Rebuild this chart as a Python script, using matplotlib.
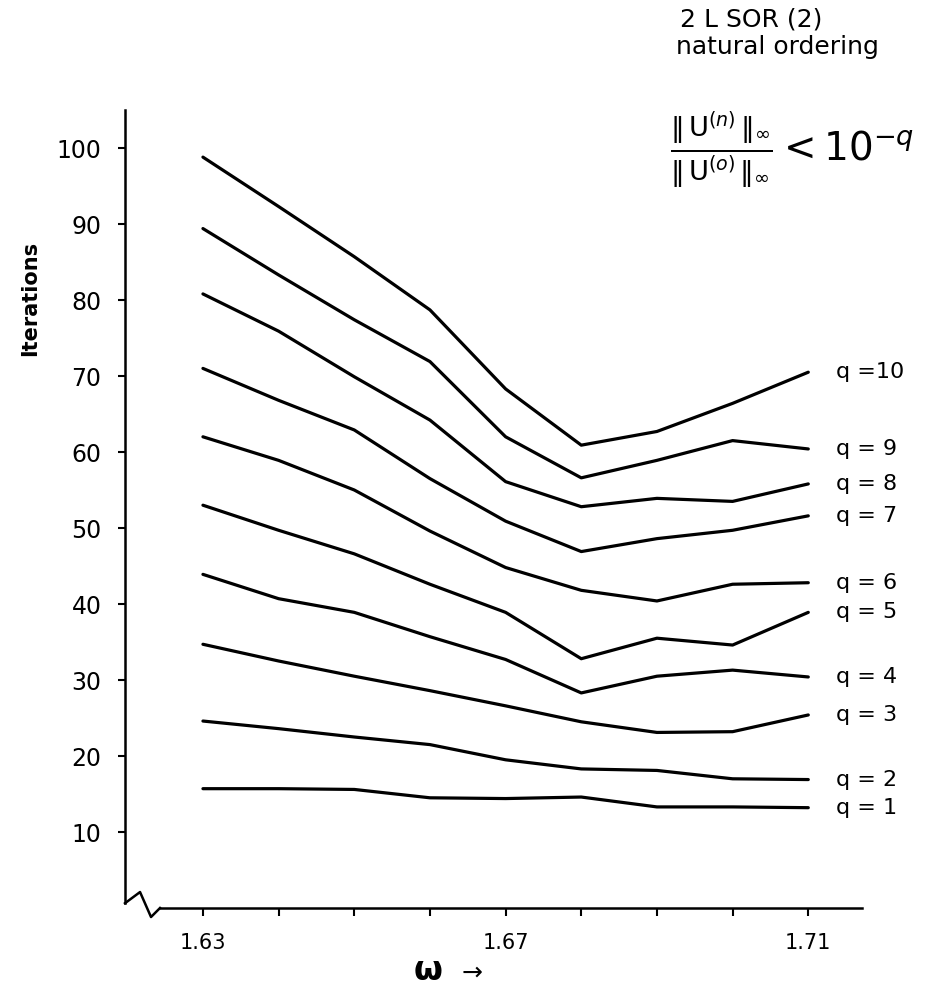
import matplotlib
matplotlib.use("Agg")
import matplotlib.pyplot as plt

plt.rcParams['font.family'] = ['DejaVu Sans']
plt.rcParams['mathtext.fontset'] = 'dejavusans'

# relaxation factor omega
omega = [1.63, 1.64, 1.65, 1.66, 1.67, 1.68, 1.69, 1.70, 1.71]

# iterations needed for ||U(n)|| / ||U(0)|| < 10^-q
q1 = [15.7, 15.7, 15.6, 14.5, 14.4, 14.6, 13.3, 13.3, 13.2]
q2 = [24.6, 23.6, 22.5, 21.5, 19.5, 18.3, 18.1, 17.0, 16.9]
q3 = [34.7, 32.5, 30.5, 28.6, 26.6, 24.5, 23.1, 23.2, 25.4]
q4 = [43.9, 40.7, 38.9, 35.7, 32.7, 28.3, 30.5, 31.3, 30.4]
q5 = [53.0, 49.7, 46.6, 42.6, 38.9, 32.8, 35.5, 34.6, 38.9]
q6 = [62.0, 58.9, 55.0, 49.6, 44.8, 41.8, 40.4, 42.6, 42.8]
q7 = [71.0, 66.8, 62.9, 56.5, 50.9, 46.9, 48.6, 49.7, 51.6]
q8 = [80.8, 75.9, 69.9, 64.2, 56.1, 52.8, 53.9, 53.5, 55.8]
q9 = [89.4, 83.3, 77.4, 71.9, 62.0, 56.6, 58.9, 61.5, 60.4]
q10 = [98.8, 92.3, 85.7, 78.7, 68.3, 60.9, 62.7, 66.4, 70.5]

series = [q1, q2, q3, q4, q5, q6, q7, q8, q9, q10]
labels = ["q = 1", "q = 2", "q = 3", "q = 4", "q = 5",
          "q = 6", "q = 7", "q = 8", "q = 9", "q =10"]

fig = plt.figure(figsize=(9.28, 9.93), dpi=100)
W, H = 928.0, 993.0
ax = fig.add_axes([125 / W, 1 - 908 / H, 737 / W, 798 / H])

for ys, lab in zip(series, labels):
    ax.plot(omega, ys, color="black", lw=2.3, solid_capstyle="round")
    ax.annotate(lab, xy=(omega[-1], ys[-1]), xytext=(20, 0),
                textcoords="offset points", va="center", ha="left",
                fontsize=16, annotation_clip=False)

ax.set_xlim(1.6197, 1.7171)
ax.set_ylim(0, 105)

ax.set_xticks(omega)
ax.set_xticklabels(["1.63", "", "", "", "1.67", "", "", "", "1.71"], fontsize=15)
ax.set_yticks([10, 20, 30, 40, 50, 60, 70, 80, 90, 100])
ax.tick_params(axis="y", direction="out", length=5, width=1.5, pad=12, labelsize=17)
ax.tick_params(axis="x", direction="out", length=6, width=1.5, pad=12)

for s in ["top", "right"]:
    ax.spines[s].set_visible(False)
ax.spines["left"].set_linewidth(1.8)
ax.spines["bottom"].set_linewidth(1.8)
ax.spines["left"].set_bounds(0.6, 105)
ax.spines["bottom"].set_bounds(1.6243, 1.7171)

# axis break zigzag
ax.plot([0.0, 0.0204, 0.0353, 0.0475], [0.006, 0.020, -0.0113, 0.0],
        transform=ax.transAxes, color="black", lw=1.8, clip_on=False)

ax.set_ylabel("Iterations", fontsize=15, fontweight="bold")
ax.yaxis.set_label_coords(-0.115, 0.764)

fig.text(428 / W, 1 - 970 / H, r"$\mathbf{\omega}$", fontsize=24,
         ha="center", va="center", fontweight="bold")
fig.text(472 / W, 1 - 973 / H, "\u2192", fontsize=18, ha="center", va="center")

fig.text(680 / W, 1 - 19 / H, "2 L SOR (2)", fontsize=18, ha="left", va="center")
fig.text(676 / W, 1 - 47 / H, "natural ordering", fontsize=18, ha="left", va="center")
fig.text(670 / W, 1 - 150 / H,
         r"$\frac{\|\,\mathrm{U}^{(n)}\,\|_\infty}{\|\,\mathrm{U}^{(o)}\,\|_\infty} < 10^{-q}$",
         fontsize=28, ha="left", va="center")

fig.savefig("out.png", dpi=100)
